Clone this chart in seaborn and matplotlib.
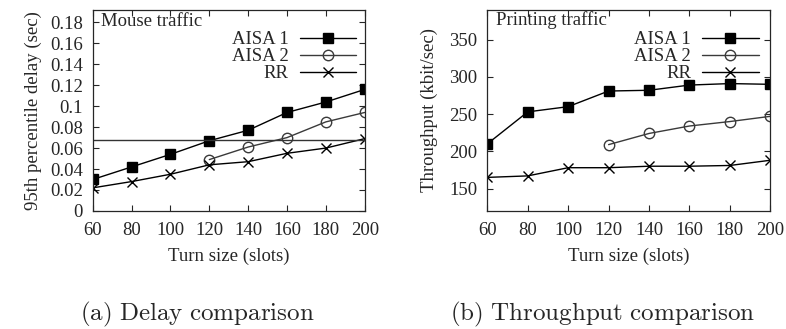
import numpy as np
import pandas as pd
import matplotlib
matplotlib.use("Agg")
import matplotlib.pyplot as plt
import seaborn as sns

# data
turn = [60, 80, 100, 120, 140, 160, 180, 200]
turn_aisa2 = [120, 140, 160, 180, 200]

delay_aisa1 = [0.030, 0.042, 0.054, 0.067, 0.077, 0.094, 0.104, 0.116]
delay_aisa2 = [0.049, 0.061, 0.070, 0.085, 0.094]
delay_rr = [0.022, 0.028, 0.035, 0.044, 0.047, 0.055, 0.060, 0.069]
delay_ref = 0.0675

thr_aisa1 = [210, 253, 260, 281, 282, 289, 291, 290]
thr_aisa2 = [209, 224, 234, 240, 247]
thr_rr = [165, 167, 178, 178, 180, 180, 181, 188]

delay_ticks = [0, 0.02, 0.04, 0.06, 0.08, 0.1, 0.12, 0.14, 0.16, 0.18]
delay_ticklabels = ["0", "0.02", "0.04", "0.06", "0.08", "0.1", "0.12", "0.14", "0.16", "0.18"]
thr_ticks = [150, 200, 250, 300, 350]

sns.set_style("ticks")
plt.rcParams['font.family'] = ['Liberation Serif', 'DejaVu Serif']
plt.rcParams['mathtext.fontset'] = 'cm'

FS = 13.5
styles = {
    'AISA 1': dict(color='black', marker='s', markersize=7, markerfacecolor='black',
                   markeredgecolor='black'),
    'AISA 2': dict(color='#3a3a3a', marker='o', markersize=7.5, markerfacecolor='none',
                   markeredgecolor='#3a3a3a'),
    'RR': dict(color='black', marker='x', markersize=7, markeredgecolor='black'),
}

fig = plt.figure(figsize=(7.86, 3.29), dpi=100)
ax1 = fig.add_axes([0.118, 0.359, 0.346, 0.611])
ax2 = fig.add_axes([0.620, 0.359, 0.360, 0.611])


def draw(ax, xs_list, ys_list):
    for name, xs, ys in zip(['AISA 1', 'AISA 2', 'RR'], xs_list, ys_list):
        df = pd.DataFrame({'x': xs, 'y': ys})
        sns.lineplot(data=df, x='x', y='y', ax=ax, label=name, linewidth=1.0,
                     markeredgewidth=1.0, **styles[name])


draw(ax1, [turn, turn_aisa2, turn], [delay_aisa1, delay_aisa2, delay_rr])
ax1.axhline(delay_ref, color='#333333', linewidth=1.0)
draw(ax2, [turn, turn_aisa2, turn], [thr_aisa1, thr_aisa2, thr_rr])

for ax, anchor_x in ((ax1, 0.995), (ax2, 0.985)):
    ax.set_xlim(60, 200)
    ax.set_xticks(turn)
    ax.tick_params(direction='in', top=True, right=True, labelsize=FS, length=4, width=0.8)
    ax.tick_params(axis='x', pad=8)
    ax.tick_params(axis='y', pad=7)
    for s in ax.spines.values():
        s.set_visible(True)
        s.set_linewidth(0.9)
    ax.set_xlabel('Turn size (slots)', fontsize=FS, labelpad=6)
    ax.legend(loc='upper right', frameon=False, markerfirst=False, fontsize=FS,
              handlelength=3.0, labelspacing=0.0, borderaxespad=0.0,
              bbox_to_anchor=(anchor_x, 0.93), handletextpad=0.6, handleheight=0.6)

ax1.set_ylim(0, 0.192)
ax1.set_yticks(delay_ticks)
ax1.set_yticklabels(delay_ticklabels)
ax1.set_ylabel('95th percentile delay (sec)', fontsize=FS, labelpad=6)
ax1.text(0.03, 0.985, 'Mouse traffic', transform=ax1.transAxes, va='top', ha='left', fontsize=FS)

ax2.set_ylim(120, 390)
ax2.set_yticks(thr_ticks)
ax2.set_ylabel('Throughput (kbit/sec)', fontsize=FS, labelpad=8)
ax2.text(0.03, 0.995, 'Printing traffic', transform=ax2.transAxes, va='top', ha='left', fontsize=FS)

fig.text(0.251, 0.043, r'$\mathrm{(a)\ Delay\ comparison}$', ha='center', va='center', fontsize=18)
fig.text(0.767, 0.043, r'$\mathrm{(b)\ Throughput\ comparison}$', ha='center', va='center', fontsize=18)

fig.savefig('out.png', dpi=100)
